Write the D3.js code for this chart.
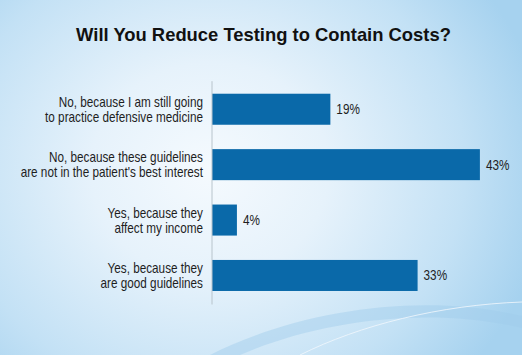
<!DOCTYPE html>
<html><head><meta charset="utf-8">
<script src="https://cdn.jsdelivr.net/npm/d3@7"></script>
<style>html,body{margin:0;padding:0;overflow:hidden;}svg{display:block;}</style>
</head><body>
<script>
const title = "Will You Reduce Testing to Contain Costs?";
const categories = [
  ["No, because I am still going", "to practice defensive medicine"],
  ["No, because these guidelines", "are not in the patient's best interest"],
  ["Yes, because they", "affect my income"],
  ["Yes, because they", "are good guidelines"]
];
const values = [19, 43, 4, 33];

const W = 522, H = 355;
const svg = d3.select("body").append("svg").attr("width", W).attr("height", H);
const defs = svg.append("defs");
const rg = defs.append("radialGradient").attr("id", "bg")
  .attr("gradientUnits", "userSpaceOnUse")
  .attr("cx", 210).attr("cy", 170).attr("r", 340)
  .attr("gradientTransform", "translate(210,170) scale(1,0.9) translate(-210,-170)");
rg.append("stop").attr("offset", 0).attr("stop-color", "#f5fafe");
rg.append("stop").attr("offset", 0.35).attr("stop-color", "#e6f2fb");
rg.append("stop").attr("offset", 0.75).attr("stop-color", "#c3e1f5");
rg.append("stop").attr("offset", 1).attr("stop-color", "#a6d2ef");
svg.append("rect").attr("width", W).attr("height", H).attr("fill", "url(#bg)");

// decorative swooshes
const sw = d3.path();
sw.moveTo(210, 355);
sw.bezierCurveTo(300, 310, 420, 292, 522, 316);
sw.lineTo(522, 328);
sw.bezierCurveTo(430, 306, 320, 320, 240, 355);
sw.closePath();
svg.append("path").attr("d", sw.toString()).attr("fill", "#9fcbea").attr("opacity", 0.45);
const sl = d3.path();
sl.moveTo(300, 355);
sl.bezierCurveTo(360, 325, 440, 305, 522, 302);
svg.append("path").attr("d", sl.toString()).attr("fill", "none").attr("stroke", "#f2f8fd").attr("stroke-width", 1).attr("opacity", 0.8);

const x = d3.scaleLinear().domain([0, 50]).range([212, 212 + 311.5]);
const y = d3.scaleBand().domain(d3.range(categories.length)).range([80.7, 304])
  .paddingInner(0.44).paddingOuter(0.235);

svg.append("text").attr("x", 263.5).attr("y", 40.5).attr("text-anchor", "middle")
  .attr("font-family", "Liberation Sans, Arial, sans-serif").attr("font-weight", "bold")
  .attr("font-size", 18.4).attr("fill", "#111").text(title);

svg.append("g").selectAll("rect").data(values).join("rect")
  .attr("x", x(0)).attr("y", (d, i) => y(i))
  .attr("width", d => x(d) - x(0)).attr("height", y.bandwidth())
  .attr("fill", "#0a69a9");

const axis = d3.axisLeft(y).tickSize(0).tickFormat("");
const ag = svg.append("g").attr("transform", "translate(211.5,0)").call(axis);
ag.select(".domain").attr("stroke", "#b8c4cc").attr("stroke-width", 1);

const FONT = "'Liberation Sans', Arial, sans-serif";
const SX = 0.84;
const lab = svg.append("g").attr("transform", `translate(203,0) scale(${SX},1)`)
  .attr("font-family", FONT).attr("font-size", 14).attr("fill", "#1e1e1e");
categories.forEach((c, i) => {
  const cy = y(i) + y.bandwidth() / 2;
  const t = lab.append("text").attr("text-anchor", "end");
  t.append("tspan").attr("x", 0).attr("y", cy - 2.5).text(c[0]);
  t.append("tspan").attr("x", 0).attr("y", cy + 12.5).text(c[1]);
});

svg.append("g").attr("font-family", FONT).attr("font-size", 14).attr("fill", "#1e1e1e")
  .selectAll("text").data(values).join("text")
  .attr("transform", (d, i) => `translate(${x(d) + 6},${y(i) + y.bandwidth() / 2 + 5}) scale(${SX},1)`)
  .text(d => d + "%");
</script>
</body></html>
